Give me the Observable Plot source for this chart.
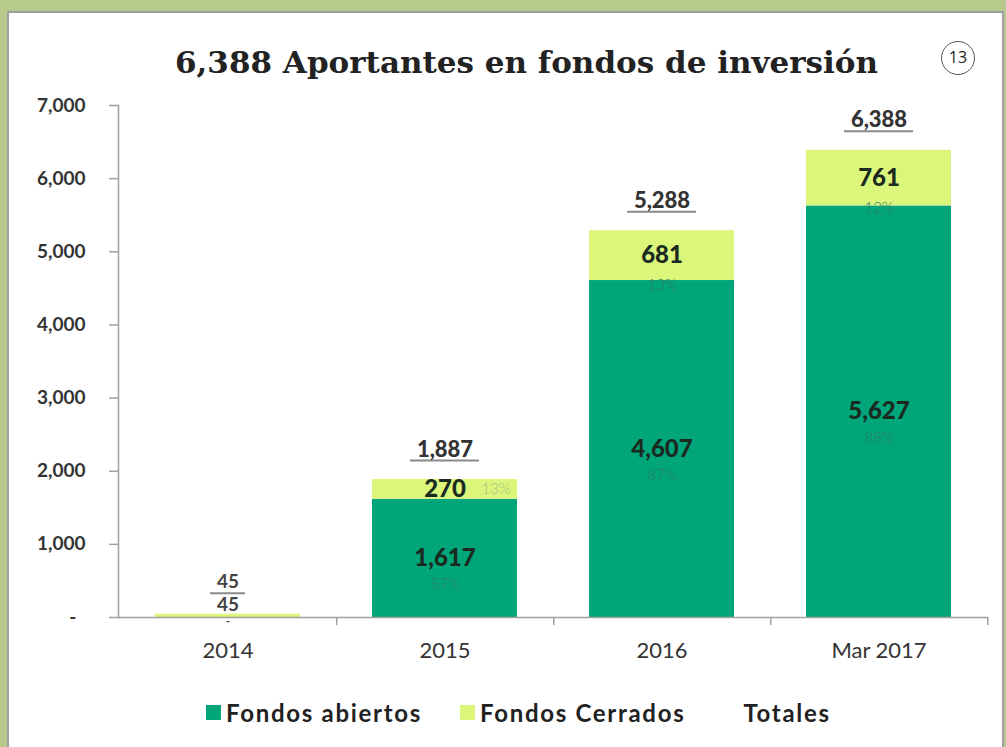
<!DOCTYPE html>
<html><head><meta charset="utf-8">
<script src="https://cdn.jsdelivr.net/npm/d3@7"></script>
<script src="https://cdn.jsdelivr.net/npm/@observablehq/plot@0.6"></script>
<style>
html,body{margin:0;padding:0;}
body{width:1006px;height:747px;background:#b7c98b;position:relative;overflow:hidden;font-family:Lato,"Open Sans",sans-serif;}
#panel{position:absolute;left:7px;top:11px;width:997px;height:750px;background:#fff;border:2px solid #a0a0a0;border-bottom:none;box-sizing:border-box;}
#title{position:absolute;left:175px;top:45px;font-family:"DejaVu Serif",serif;font-weight:bold;font-size:30px;color:#222;white-space:nowrap;transform-origin:0 0;}
#badge{position:absolute;left:941px;top:41px;width:34px;height:34px;border:1.5px solid #555;border-radius:50%;box-sizing:border-box;text-align:center;line-height:31px;font-size:16px;color:#222;font-family:"Open Sans",sans-serif;}
#chart{position:absolute;left:0;top:80px;}
#legend{position:absolute;left:206px;top:698px;display:flex;align-items:center;font-weight:bold;font-size:24px;letter-spacing:1.7px;color:#222;white-space:nowrap;}
#legend .item{display:flex;align-items:center;gap:5px;margin-right:38px;}
#legend .sw{width:15px;height:15px;display:inline-block;}
</style>
</head><body>
<div id="panel"></div>
<div id="title">6,388 Aportantes en fondos de inversión</div>
<div id="badge">13</div>
<div id="chart"></div>
<div id="legend"></div>
<script>
const categories = ["2014", "2015", "2016", "Mar 2017"];
const abiertos = [0, 1617, 4607, 5627];
const cerrados = [45, 270, 681, 761];
const totales = [45, 1887, 5288, 6388];
const pctAbiertos = ["", "87%", "87%", "88%"];
const pctCerrados = ["", "13%", "13%", "12%"];
const yTicks = [0, 1000, 2000, 3000, 4000, 5000, 6000, 7000];
const seriesNames = ["Fondos abiertos", "Fondos Cerrados"];
const seriesColors = ["#00a67a", "#dcf67c"];
const legendNames = ["Fondos abiertos", "Fondos Cerrados", "Totales"];
const legendColors = ["#00a67a", "#dcf67c", "#ffffff"];

const rows = [];
categories.forEach((c, i) => {
  rows.push({cat: c, series: seriesNames[0], value: abiertos[i], pct: pctAbiertos[i]});
  rows.push({cat: c, series: seriesNames[1], value: cerrados[i], pct: pctCerrados[i]});
});
const totalRows = categories.map((c, i) => ({cat: c, total: totales[i]}));

const fmt = d3.format(",");
const W = 1006, H = 590, mL = 118, mR = 18, mT = 25, mB = 53;
const pI = 0.33, pO = 0.165;
const step = (W - mL - mR) / (categories.length - pI + 2 * pO);

const plot = Plot.plot({
  width: W, height: H,
  marginLeft: mL, marginRight: mR, marginTop: mT, marginBottom: mB,
  style: {fontFamily: "Lato, sans-serif", background: "transparent"},
  x: {domain: categories, paddingInner: pI, paddingOuter: pO, label: null},
  y: {domain: [0, 7000], label: null},
  color: {domain: seriesNames, range: seriesColors},
  marks: [
    Plot.barY(rows, Plot.stackY({x: "cat", y: "value", fill: "series"})),
    Plot.ruleY([0], {stroke: "#a0a0a0", strokeWidth: 1.5}),
    Plot.frame({anchor: "left", stroke: "#a0a0a0", strokeWidth: 1.5}),
    Plot.axisY({ticks: yTicks, tickSize: 9, tickPadding: 24, stroke: "#a0a0a0", strokeWidth: 1.5,
      fill: "#333", fontSize: 19, fontWeight: "bold",
      tickFormat: d => d === 0 ? "-\u00a0\u00a0" : fmt(d), label: null}),
    Plot.axisX({tickSize: 8, tickFormat: () => "", dx: step / 2, stroke: "#a0a0a0", strokeWidth: 1.5, label: null}),
    Plot.axisX({tickSize: 0, tickPadding: 25, fontSize: 22, fill: "#333", label: null}),
    // segment value labels
    Plot.text(rows, Plot.stackY({x: "cat", y: "value",
      text: d => d.value >= 100 ? fmt(d.value) : null,
      fontSize: 24, fontWeight: 900, fill: "#1b2a1f"})),
    Plot.text(rows, Plot.stackY({x: "cat", y: "value",
      text: d => d.value > 0 && d.value < 100 ? fmt(d.value) : null,
      dy: -11, fontSize: 19, fontWeight: "bold", fill: "#444"})),
    Plot.text(rows, Plot.stackY({x: "cat", y: "value",
      text: d => d.value === 0 ? "-" : null,
      dy: 4, fontSize: 12, fontWeight: "bold", fill: "#444"})),
    // percentages
    Plot.text(rows, Plot.stackY({x: "cat", y: "value",
      text: d => d.series === seriesNames[0] && d.pct ? d.pct : null,
      dy: 26, fontSize: 15, fontWeight: 300, fill: "#2f7f62"})),
    Plot.text(rows, Plot.stackY({x: "cat", y: "value",
      text: d => d.series === seriesNames[1] && d.value >= 500 ? d.pct : null,
      dy: 30, fontSize: 15, fontWeight: 300, fill: "#2f7f62"})),
    Plot.text(rows, Plot.stackY({x: "cat", y: "value",
      text: d => d.series === seriesNames[1] && d.value >= 100 && d.value < 500 ? d.pct : null,
      dx: 51, fontSize: 15, fontWeight: 300, fill: "#a3c183"})),
    // totals with underline
    Plot.tickY(totalRows.filter(d => d.total >= 1000), {x: "cat", y: "total", dy: -19,
      insetLeft: 38, insetRight: 38, stroke: "#8a8a8a", strokeWidth: 2}),
    Plot.tickY(totalRows.filter(d => d.total < 1000), {x: "cat", y: "total", dy: -21,
      insetLeft: 55, insetRight: 55, stroke: "#8a8a8a", strokeWidth: 2}),
    Plot.text(totalRows.filter(d => d.total >= 1000), {x: "cat", y: "total", text: d => fmt(d.total), dy: -30,
      fontSize: 22, fontWeight: 900, fill: "#333"}),
    Plot.text(totalRows.filter(d => d.total < 1000), {x: "cat", y: "total", text: d => fmt(d.total), dy: -32,
      fontSize: 19, fontWeight: "bold", fill: "#444"})
  ]
});
document.getElementById("chart").appendChild(plot);

const legend = d3.select("#legend");
legendNames.forEach((n, i) => {
  const it = legend.append("div").attr("class", "item");
  it.append("span").attr("class", "sw").style("background", legendColors[i]);
  it.append("span").text(n);
});

const t = document.getElementById("title");
const w = t.getBoundingClientRect().width;
t.style.transform = `scaleX(${703 / w})`;
</script>
</body></html>
